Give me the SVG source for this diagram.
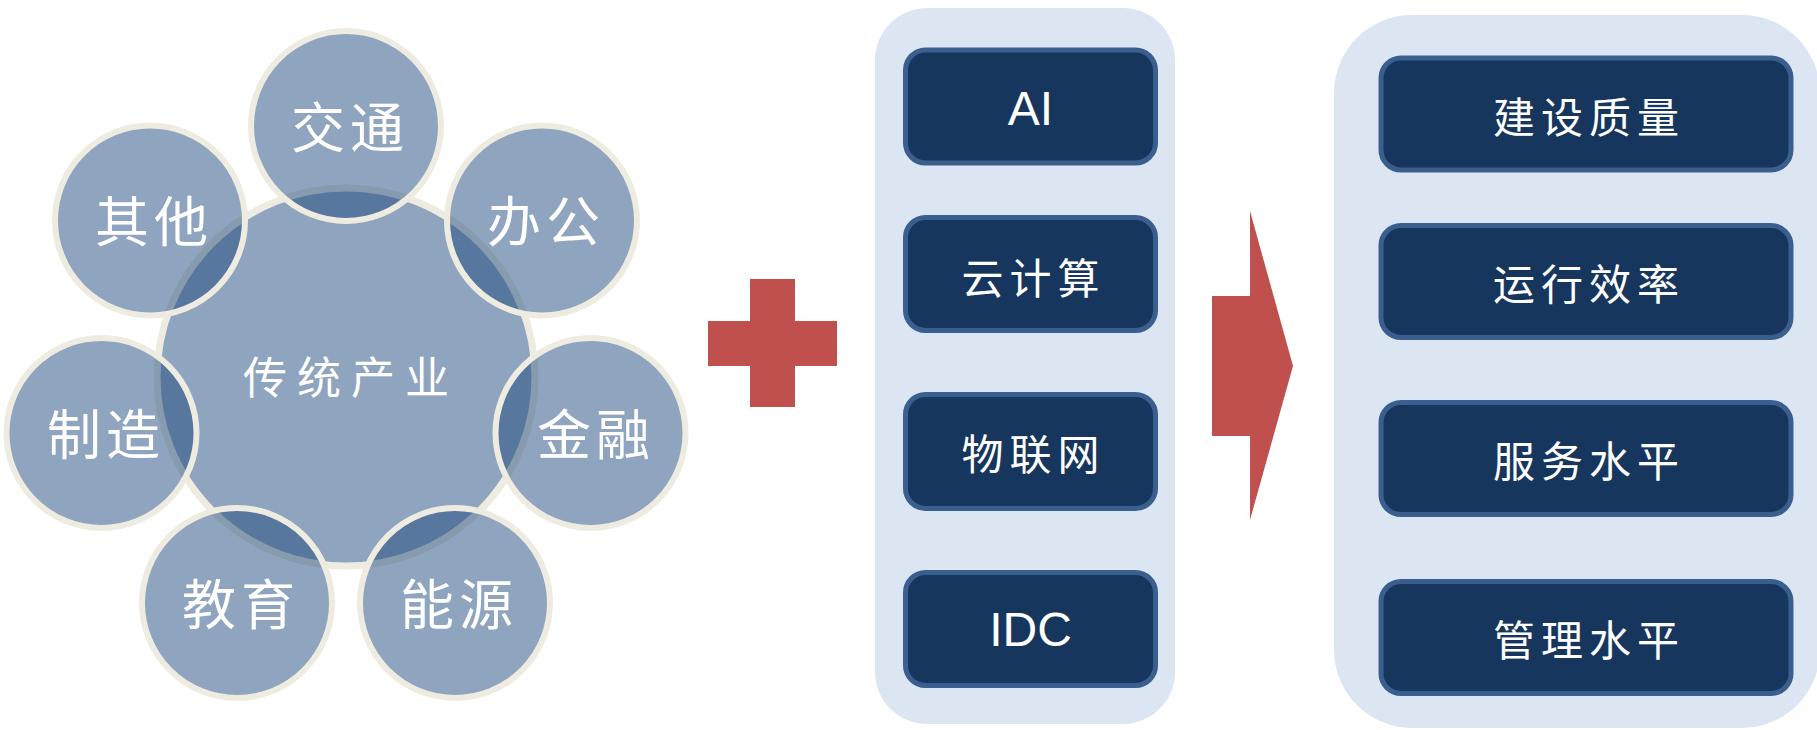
<svg xmlns="http://www.w3.org/2000/svg" width="1817" height="730" viewBox="0 0 1817 730">
  <style>
    .core { fill: #1F497D; fill-opacity: 0.5; stroke: #EEECE1; stroke-width: 7; }
    .sat { fill: #1F497D; fill-opacity: 0.5; stroke: #EEECE1; stroke-width: 6; }
    .cjk { font-family: "Noto Sans CJK SC", "Noto Sans CJK JP", sans-serif; fill: #FFFFFF; text-anchor: middle; dominant-baseline: central; }
    .lat { font-family: "Liberation Sans", Arial, sans-serif; fill: #FFFFFF; text-anchor: middle; font-size: 48px; }
    .sat-label { font-size: 54px; letter-spacing: 5px; }
    .core-label { font-size: 44px; letter-spacing: 10px; }
    .box-label { font-size: 42px; letter-spacing: 6px; }
    .panel { fill: #DCE6F2; }
    .box { fill: #17365D; stroke: #3A5F8E; stroke-width: 5; }
    .accent { fill: #C0504D; }
  </style>

  <!-- industry cluster: core circle with seven sectors around it -->
  <g id="core">
    <circle class="core" cx="346" cy="377" r="189"/>
    <text class="cjk core-label" x="351" y="375">传统产业</text>
  </g>
  <g id="sector-traffic">
    <circle class="sat" cx="346" cy="126" r="95"/>
    <text class="cjk sat-label" x="350" y="124">交通</text>
  </g>
  <g id="sector-office">
    <circle class="sat" cx="542" cy="220.5" r="95"/>
    <text class="cjk sat-label" x="546" y="218">办公</text>
  </g>
  <g id="sector-finance">
    <circle class="sat" cx="590.5" cy="433" r="95"/>
    <text class="cjk sat-label" x="596" y="431">金融</text>
  </g>
  <g id="sector-energy">
    <circle class="sat" cx="455" cy="603" r="95"/>
    <text class="cjk sat-label" x="459" y="601">能源</text>
  </g>
  <g id="sector-education">
    <circle class="sat" cx="237" cy="603" r="95"/>
    <text class="cjk sat-label" x="241" y="601">教育</text>
  </g>
  <g id="sector-manufacturing">
    <circle class="sat" cx="101.5" cy="433" r="95"/>
    <text class="cjk sat-label" x="106" y="431">制造</text>
  </g>
  <g id="sector-other">
    <circle class="sat" cx="150" cy="220.5" r="95"/>
    <text class="cjk sat-label" x="154" y="218">其他</text>
  </g>

  <!-- plus sign and transition arrow -->
  <g id="connectors">
    <path class="accent" d="M750 279 H795 V321 H837 V366 H795 V407 H750 V366 H708 V321 H750 Z"/>
    <path class="accent" d="M1212 296 H1250 V211 L1293 366 L1250 520 V436 H1212 Z"/>
  </g>

  <!-- technology column -->
  <g id="tech-panel">
    <rect class="panel" x="875" y="8" width="300" height="716" rx="52"/>
  </g>
  <g id="tech-ai">
    <rect class="box" x="905.5" y="50" width="250" height="113" rx="20"/>
    <text class="lat" x="1030.5" y="125">AI</text>
  </g>
  <g id="tech-cloud">
    <rect class="box" x="905.5" y="217.5" width="250" height="113" rx="20"/>
    <text class="cjk box-label" x="1033.5" y="275">云计算</text>
  </g>
  <g id="tech-iot">
    <rect class="box" x="905.5" y="394.5" width="250" height="114" rx="20"/>
    <text class="cjk box-label" x="1033.5" y="451">物联网</text>
  </g>
  <g id="tech-idc">
    <rect class="box" x="905.5" y="572.5" width="250" height="113" rx="20"/>
    <text class="lat" x="1030.5" y="646">IDC</text>
  </g>

  <!-- outcome column -->
  <g id="outcome-panel">
    <rect class="panel" x="1334" y="15" width="486" height="713" rx="78"/>
  </g>
  <g id="outcome-quality">
    <rect class="box" x="1381" y="58" width="410" height="112" rx="20"/>
    <text class="cjk box-label" x="1589" y="114">建设质量</text>
  </g>
  <g id="outcome-efficiency">
    <rect class="box" x="1381" y="225.5" width="410" height="112" rx="20"/>
    <text class="cjk box-label" x="1589" y="281">运行效率</text>
  </g>
  <g id="outcome-service">
    <rect class="box" x="1381" y="402.5" width="410" height="112" rx="20"/>
    <text class="cjk box-label" x="1589" y="458">服务水平</text>
  </g>
  <g id="outcome-management">
    <rect class="box" x="1381" y="581.5" width="410" height="112" rx="20"/>
    <text class="cjk box-label" x="1589" y="637">管理水平</text>
  </g>
</svg>
